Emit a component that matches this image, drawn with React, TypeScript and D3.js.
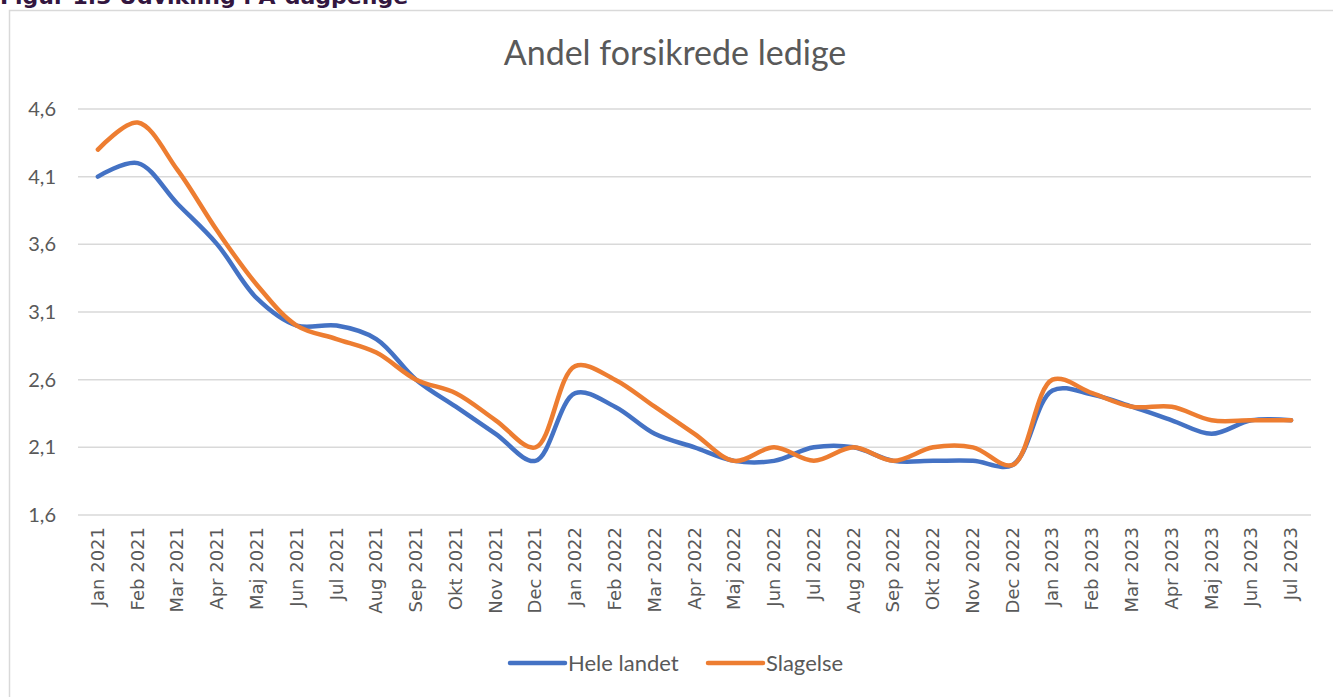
import React from "react";
import * as d3 from "d3";

const months = [
  "Jan 2021", "Feb 2021", "Mar 2021", "Apr 2021", "Maj 2021", "Jun 2021", "Jul 2021", "Aug 2021",
  "Sep 2021", "Okt 2021", "Nov 2021", "Dec 2021", "Jan 2022", "Feb 2022", "Mar 2022", "Apr 2022",
  "Maj 2022", "Jun 2022", "Jul 2022", "Aug 2022", "Sep 2022", "Okt 2022", "Nov 2022", "Dec 2022",
  "Jan 2023", "Feb 2023", "Mar 2023", "Apr 2023", "Maj 2023", "Jun 2023", "Jul 2023",
];

const heleLandet = [
  4.1, 4.2, 3.9, 3.6, 3.2, 3.0, 3.0, 2.9, 2.6, 2.4, 2.2, 2.0, 2.5, 2.4, 2.2, 2.1,
  2.0, 2.0, 2.1, 2.1, 2.0, 2.0, 2.0, 1.97, 2.52, 2.49, 2.4, 2.3, 2.2, 2.3, 2.3,
];

const slagelse = [
  4.3, 4.5, 4.15, 3.7, 3.3, 3.0, 2.9, 2.8, 2.6, 2.5, 2.3, 2.1, 2.7, 2.6, 2.4, 2.2,
  2.0, 2.1, 2.0, 2.1, 2.0, 2.1, 2.1, 1.97, 2.6, 2.5, 2.4, 2.4, 2.3, 2.3, 2.3,
];

const yTicks = [1.6, 2.1, 2.6, 3.1, 3.6, 4.1, 4.6];

const seriesNames = ["Hele landet", "Slagelse"];
const seriesColors = ["#4472C4", "#ED7D31"];

export default function App() {
  const W = 1333;
  const H = 697;
  const left = 78;
  const right = 1311;
  const top = 109;
  const bottom = 515;

  const x = d3.scaleBand<string>().domain(months).range([left, right]);
  const y = d3.scaleLinear().domain([1.6, 4.6]).range([bottom, top]);
  const cx = (m: string) => (x(m) as number) + x.bandwidth() / 2;

  const line = d3
    .line<number>()
    .x((_, i) => cx(months[i]))
    .y((v) => y(v))
    .curve(d3.curveCatmullRom.alpha(0.5));

  const data = [heleLandet, slagelse];
  const labelFont = "'DejaVu Sans', Verdana, sans-serif";
  const textFont = "Lato, 'Open Sans', sans-serif";

  return (
    <svg
      width={W}
      height={H}
      style={{ position: "absolute", left: 0, top: 0, background: "#fff" }}
    >
      <rect x={0} y={0} width={W} height={H} fill="#fff" />
      <text
        x={0}
        y={4}
        fontFamily={labelFont}
        fontWeight="bold"
        fontSize={22}
        fill="#33163f"
      >
        Figur 1.3 Udvikling i A-dagpenge
      </text>
      <rect x={9.5} y={10.5} width={1340} height={700} fill="none" stroke="#d9d9d9" strokeWidth={1.5} />
      <text
        x={675}
        y={65}
        textAnchor="middle"
        fontFamily={textFont}
        fontSize={34}
        fill="#595959"
      >
        Andel forsikrede ledige
      </text>
      {yTicks.map((t) => (
        <g key={t}>
          <line x1={left} x2={right} y1={y(t)} y2={y(t)} stroke="#d9d9d9" strokeWidth={1.5} />
          <text
            x={56}
            y={y(t)}
            dy="0.35em"
            textAnchor="end"
            fontFamily={textFont}
            fontSize={20}
            fill="#595959"
          >
            {t.toFixed(1).replace(".", ",")}
          </text>
        </g>
      ))}
      {months.map((m) => (
        <text
          key={m}
          transform={`translate(${cx(m) + 6},${527}) rotate(-90)`}
          textAnchor="end"
          fontFamily={labelFont}
          fontSize={18}
          fill="#595959"
        >
          {m}
        </text>
      ))}
      {data.map((d, i) => (
        <path
          key={i}
          d={line(d) || ""}
          fill="none"
          stroke={seriesColors[i]}
          strokeWidth={4.5}
          strokeLinecap="round"
          strokeLinejoin="round"
        />
      ))}
      {seriesNames.map((n, i) => {
        const lx = [510, 708][i];
        return (
          <g key={n}>
            <line
              x1={lx}
              x2={lx + 55}
              y1={663}
              y2={663}
              stroke={seriesColors[i]}
              strokeWidth={4.5}
              strokeLinecap="round"
            />
            <text
              x={lx + 58}
              y={663}
              dy="0.35em"
              fontFamily={textFont}
              fontSize={22}
              fill="#595959"
            >
              {n}
            </text>
          </g>
        );
      })}
    </svg>
  );
}
